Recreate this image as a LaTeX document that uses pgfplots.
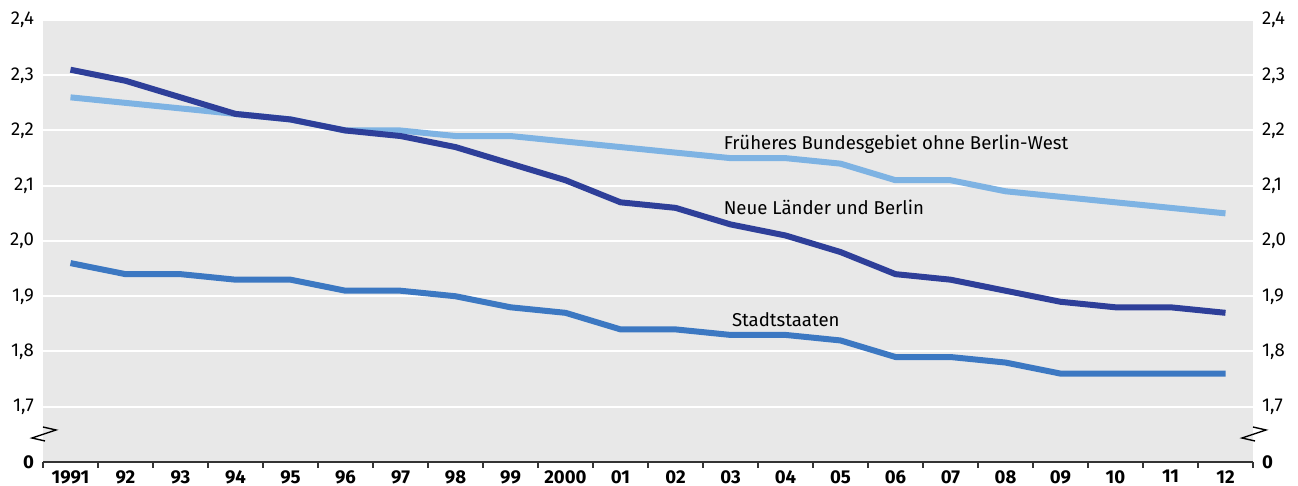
\documentclass[border=0pt]{standalone}
\usepackage{pgfplots}
\pgfplotsset{compat=1.18}
\usepackage{fontspec}
\setmainfont{Fira Sans}
\usetikzlibrary{calc}
\definecolor{dark}{HTML}{2E3F99}
\definecolor{light}{HTML}{7EB3E3}
\definecolor{mid}{HTML}{3C78C2}
\definecolor{bg}{HTML}{E8E8E8}
\definecolor{axl}{HTML}{333333}
\begin{document}
\begin{tikzpicture}
\begin{axis}[name=ax,
  scale only axis, width=605pt, height=221pt,
  xmin=-0.5, xmax=21.5, ymin=1.6, ymax=2.4,
  axis background/.style={fill=bg},
  axis x line*=bottom, axis y line*=left,
  y axis line style={draw=none},
  x axis line style={draw=axl, line width=1pt},
  xtick={0,...,21},
  xticklabels={1991,92,93,94,95,96,97,98,99,2000,01,02,03,04,05,06,07,08,09,10,11,12},
  xticklabel style={font=\fontsize{9.3}{10}\selectfont\bfseries, anchor=north, inner sep=0pt, yshift=-4pt},
  major x tick style={draw=none},
  major tick length=0pt,
  minor xtick={-0.5,0.5,...,21.5},
  minor x tick style={draw=axl, line width=0.8pt},
  minor tick length=3pt, tick align=outside,
  ytick={1.6,1.7,1.8,1.9,2.0,2.1,2.2,2.3,2.4},
  yticklabels={{\bfseries 0},{1,7},{1,8},{1,9},{2,0},{2,1},{2,2},{2,3},{2,4}},
  yticklabel style={font=\fontsize{9.3}{10}\selectfont, xshift=-1pt},
  major y tick style={draw=none},
  ymajorgrids, grid style={white, line width=1pt},
  every axis plot/.append style={line width=3pt, line join=round, no markers},
  clip=false,
]
\addplot[light] coordinates {(0,2.26)(1,2.25)(2,2.24)(3,2.23)(4,2.22)(5,2.20)(6,2.20)(7,2.19)(8,2.19)(9,2.18)(10,2.17)(11,2.16)(12,2.15)(13,2.15)(14,2.14)(15,2.11)(16,2.11)(17,2.09)(18,2.08)(19,2.07)(20,2.06)(21,2.05)};
\addplot[dark] coordinates {(0,2.31)(1,2.29)(2,2.26)(3,2.23)(4,2.22)(5,2.20)(6,2.19)(7,2.17)(8,2.14)(9,2.11)(10,2.07)(11,2.06)(12,2.03)(13,2.01)(14,1.98)(15,1.94)(16,1.93)(17,1.91)(18,1.89)(19,1.88)(20,1.88)(21,1.87)};
\addplot[mid] coordinates {(0,1.96)(1,1.94)(2,1.94)(3,1.93)(4,1.93)(5,1.91)(6,1.91)(7,1.90)(8,1.88)(9,1.87)(10,1.84)(11,1.84)(12,1.83)(13,1.83)(14,1.82)(15,1.79)(16,1.79)(17,1.78)(18,1.76)(19,1.76)(20,1.76)(21,1.76)};
\node[anchor=west, font=\fontsize{9.3}{10}\selectfont, inner sep=0pt] at (axis cs:11.87,2.176) {Früheres Bundesgebiet ohne Berlin-West};
\node[anchor=west, font=\fontsize{9.3}{10}\selectfont, inner sep=0pt] at (axis cs:11.87,2.060) {Neue Länder und Berlin};
\node[anchor=west, font=\fontsize{9.3}{10}\selectfont, inner sep=0pt] at (axis cs:12.02,1.858) {Stadtstaaten};
\end{axis}
\begin{axis}[
  scale only axis, width=605pt, height=221pt,
  xmin=-0.5, xmax=21.5, ymin=1.6, ymax=2.4,
  axis x line=none, axis y line*=right,
  y axis line style={draw=none},
  ytick={1.6,1.7,1.8,1.9,2.0,2.1,2.2,2.3,2.4},
  yticklabels={{\bfseries 0},{1,7},{1,8},{1,9},{2,0},{2,1},{2,2},{2,3},{2,4}},
  yticklabel style={font=\fontsize{9.3}{10}\selectfont, xshift=1pt},
  major y tick style={draw=none},
]
\addplot[draw=none] coordinates {(0,2)};
\end{axis}
% axis break marks
\draw[black, line width=0.7pt] ($(ax.south west)+(0pt,17.5pt)$) -- ++(6.5pt,-1.5pt) -- ++(-12pt,-4pt) -- ++(6.5pt,-1.5pt);
\draw[black, line width=0.7pt] ($(ax.south east)+(0pt,17.5pt)$) -- ++(6.5pt,-1.5pt) -- ++(-12pt,-4pt) -- ++(6.5pt,-1.5pt);
\pgfresetboundingbox
\path[use as bounding box] ($(ax.south west)+(-21.5pt,-12pt)$) rectangle ($(ax.north east)+(22.5pt,10pt)$);
\end{tikzpicture}
\end{document}
